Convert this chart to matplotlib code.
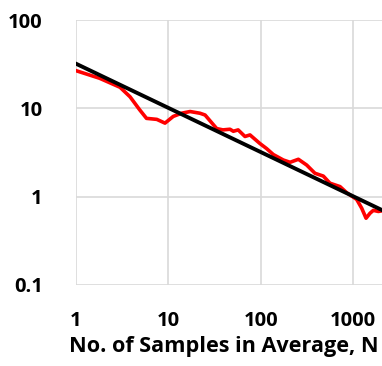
import matplotlib
matplotlib.use("Agg")
import matplotlib.pyplot as plt
import numpy as np

# Data
n_samples = [1, 1.8, 3.0, 3.85, 4.9, 5.8, 7.5, 9.2, 11.3, 13.9, 17.2, 22, 25,
             33.4, 39, 46.5, 50.6, 57, 67.6, 76.6, 98, 116, 137, 176, 208, 256,
             315, 387, 477, 563, 723, 853, 1096, 1242, 1384, 1529, 1660, 1880, 2040]
allan_dev = [26.7, 21.9, 17.3, 13.5, 9.6, 7.7, 7.5, 6.8, 8.1, 8.8, 9.2, 8.8, 8.4,
             5.9, 5.7, 5.8, 5.5, 5.7, 4.8, 5.0, 4.0, 3.5, 3.0, 2.6, 2.45, 2.65,
             2.28, 1.84, 1.71, 1.42, 1.30, 1.11, 0.93, 0.74, 0.57, 0.65, 0.70, 0.68, 0.69]
trend_coef = 32.0
trend_exp = -0.5
trend_n = [1, 2060]

x_ticks = [1, 10, 100, 1000]
x_tick_labels = ["1", "10", "100", "1000"]
y_ticks = [0.1, 1, 10, 100]
y_tick_labels = ["0.1", "1", "10", "100"]
x_label = "No. of Samples in Average, N"

fig = plt.figure(figsize=(3.82, 3.66), dpi=100)
ax = fig.add_axes([76/382, 1-285/366, 1-76/382, (285-20)/366])

ax.plot(n_samples, allan_dev, color="#ff0000", lw=2.6, solid_joinstyle="round", zorder=3)
tn = np.array(trend_n, dtype=float)
ax.plot(tn, trend_coef * tn ** trend_exp, color="black", lw=2.8, zorder=4)

ax.set_xscale("log")
ax.set_yscale("log")
ax.set_xlim(1, 2060)
ax.set_ylim(0.1, 100)
ax.set_xticks(x_ticks)
ax.set_xticklabels(x_tick_labels)
ax.set_yticks(y_ticks)
ax.set_yticklabels(y_tick_labels)
ax.minorticks_off()
ax.tick_params(length=0, labelsize=14.5, pad=0)
ax.tick_params(axis="x", pad=19)
ax.tick_params(axis="y", pad=24)
for lab in ax.get_xticklabels() + ax.get_yticklabels():
    lab.set_fontweight("bold")
    lab.set_family("Open Sans")
for s in ax.spines.values():
    s.set_visible(False)
ax.grid(True, color="#d9d9d9", lw=1.2)
ax.set_axisbelow(True)

fig.text(0.585, 0.052, x_label, ha="center", va="center", fontsize=15.6,
         fontweight="bold", family="Open Sans")

fig.savefig("out.png", dpi=100)
